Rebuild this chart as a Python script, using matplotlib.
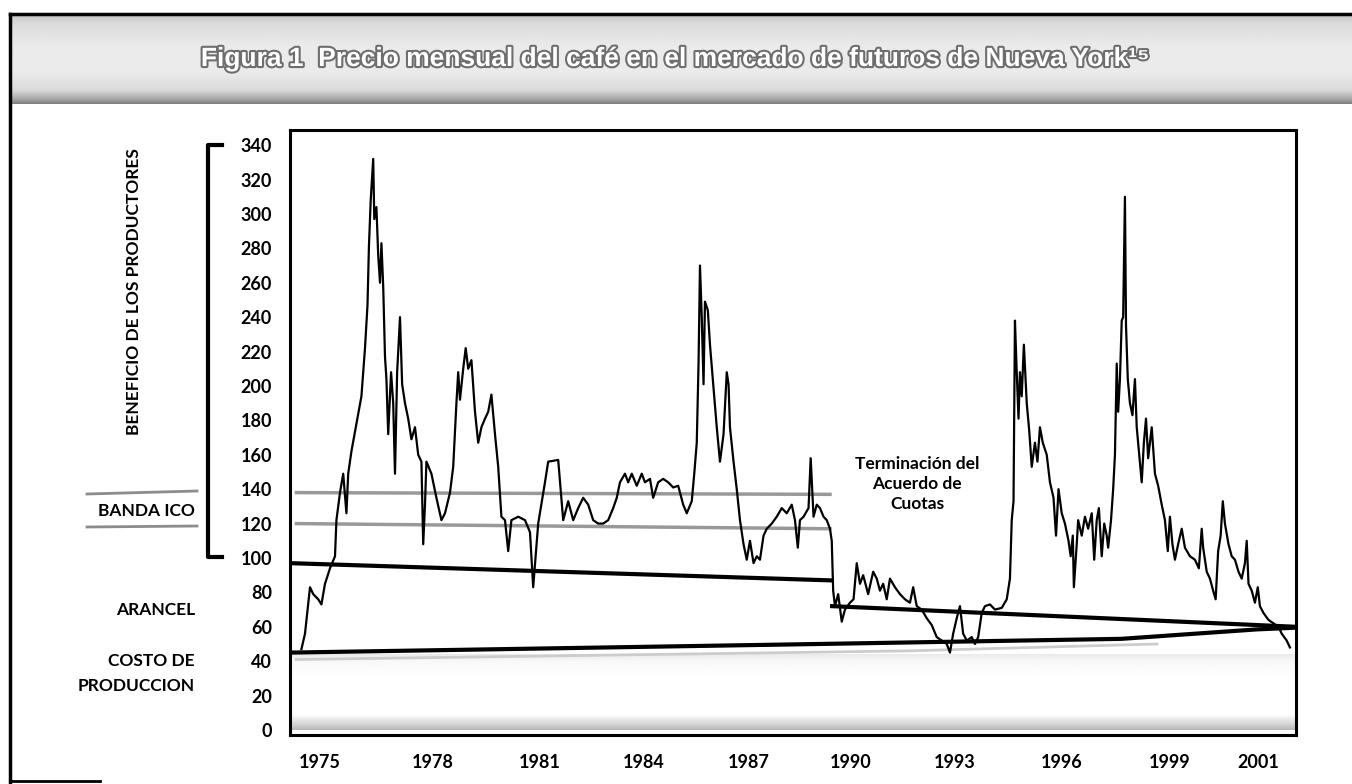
import matplotlib.pyplot as plt
import matplotlib.patheffects as pe
import numpy as np
from matplotlib.lines import Line2D

W, H = 1352, 784

# precio mensual aproximado (centavos US$/libra)
fechas = [1974.54, 1974.64, 1974.78, 1974.87, 1975.01, 1975.10, 1975.20, 1975.34, 1975.48, 1975.52,
          1975.62, 1975.71, 1975.80, 1975.85, 1975.94, 1976.08, 1976.22, 1976.32, 1976.39, 1976.43,
          1976.48, 1976.55, 1976.58, 1976.64, 1976.69, 1976.74, 1976.78, 1976.83, 1976.88, 1976.92,
          1976.97, 1977.05, 1977.11, 1977.16, 1977.22, 1977.30, 1977.36, 1977.44, 1977.53, 1977.62,
          1977.72, 1977.81, 1977.90, 1977.95, 1978.00, 1978.04, 1978.18, 1978.32, 1978.46, 1978.56,
          1978.70, 1978.79, 1978.88, 1978.93, 1978.98, 1979.07, 1979.14, 1979.21, 1979.30, 1979.40,
          1979.49, 1979.58, 1979.68, 1979.77, 1979.86, 1979.96, 1980.05, 1980.14, 1980.24, 1980.33,
          1980.42, 1980.61, 1980.80, 1980.94, 1981.03, 1981.17, 1981.36,
          1981.45, 1981.73, 1981.87, 1982.01, 1982.15, 1982.29, 1982.43, 1982.57, 1982.71, 1982.85,
          1982.99, 1983.13, 1983.27, 1983.37, 1983.46, 1983.60, 1983.69, 1983.79, 1983.93, 1984.07,
          1984.16, 1984.30, 1984.39, 1984.53, 1984.67, 1984.81, 1984.95, 1985.09, 1985.23, 1985.33,
          1985.47, 1985.54, 1985.61, 1985.66, 1985.70, 1985.75, 1985.80, 1985.84, 1985.92, 1985.98,
          1986.08, 1986.17, 1986.26, 1986.36, 1986.45, 1986.50, 1986.54, 1986.64, 1986.73, 1986.82,
          1986.92, 1987.01, 1987.10, 1987.20, 1987.29, 1987.38, 1987.48, 1987.57, 1987.71, 1987.85,
          1987.99, 1988.13, 1988.27, 1988.36, 1988.44, 1988.50, 1988.60, 1988.74, 1988.80, 1988.88,
          1988.97, 1989.06, 1989.16, 1989.25, 1989.34,
          1989.39, 1989.43, 1989.48, 1989.57, 1989.67, 1989.76, 1989.90, 1990.00, 1990.09, 1990.18,
          1990.27, 1990.41, 1990.55, 1990.65, 1990.74, 1990.83, 1990.93, 1991.02, 1991.16, 1991.30,
          1991.44, 1991.58, 1991.67, 1991.77, 1991.91, 1992.05, 1992.19, 1992.33, 1992.47, 1992.61,
          1992.70, 1992.79, 1992.89, 1992.98, 1993.07, 1993.17, 1993.31, 1993.40, 1993.49, 1993.59,
          1993.68, 1993.82, 1993.96, 1994.15, 1994.29, 1994.38, 1994.43, 1994.48, 1994.52, 1994.57,
          1994.62, 1994.66, 1994.71, 1994.77, 1994.85, 1994.92, 1994.99, 1995.08, 1995.15, 1995.22,
          1995.30, 1995.41, 1995.50, 1995.60, 1995.67, 1995.74, 1995.83, 1995.92, 1996.02, 1996.08,
          1996.14, 1996.17, 1996.25,
          1996.29, 1996.39, 1996.48, 1996.57, 1996.67, 1996.74, 1996.81, 1996.87, 1996.95, 1997.02,
          1997.09, 1997.13, 1997.21, 1997.27, 1997.32, 1997.37, 1997.41, 1997.46, 1997.51, 1997.55,
          1997.60, 1997.63, 1997.68, 1997.74, 1997.81, 1997.88, 1997.93, 1997.99, 1998.07, 1998.13,
          1998.19, 1998.25, 1998.35, 1998.44, 1998.53, 1998.63, 1998.72, 1998.80, 1998.86, 1998.93,
          1999.00, 1999.09, 1999.19, 1999.28, 1999.42, 1999.56, 1999.67, 1999.75, 1999.79, 1999.89,
          1999.98, 2000.07, 2000.14, 2000.21, 2000.28, 2000.34, 2000.40, 2000.50, 2000.59, 2000.68,
          2000.78, 2000.87, 2000.96, 2001.01, 2001.06, 2001.15, 2001.24, 2001.32, 2001.38, 2001.48,
          2001.62, 2001.76, 2001.90, 2001.99, 2002.13, 2002.22]
precio = [47, 56, 83, 79, 76, 73, 85, 94, 101, 122,
          138, 149, 126, 149, 162, 178, 194, 222, 247, 281,
          308, 332, 297, 304, 276, 260, 283, 258, 217, 204,
          172, 208, 190, 149, 208, 240, 201, 190, 181, 169,
          176, 160, 156, 108, 131, 156, 149, 135, 122, 126,
          138, 153, 190, 208, 192, 210, 222, 210, 215, 185,
          167, 176, 181, 185, 195, 172, 153, 124, 122, 104,
          122, 124, 122, 115, 83, 120, 144,
          156, 157, 122, 133, 122, 129, 135, 131, 122, 120,
          120, 122, 129, 135, 144, 149, 144, 149, 142, 149,
          144, 146, 135, 144, 146, 144, 141, 142, 131, 126,
          133, 149, 167, 213, 270, 240, 201, 249, 244, 224,
          199, 176, 156, 172, 208, 201, 176, 156, 140, 122,
          108, 99, 110, 97, 101, 99, 113, 117, 120, 124,
          129, 126, 131, 122, 106, 122, 124, 129, 158, 124,
          131, 129, 124, 122, 117,
          110, 81, 72, 79, 63, 70, 74, 76, 97, 85,
          90, 79, 92, 88, 81, 85, 76, 88, 83, 79,
          76, 74, 83, 72, 70, 65, 61, 54, 52, 50,
          45, 56, 65, 72, 56, 52, 54, 50, 54, 68,
          72, 73, 70, 71, 76, 88, 122, 133, 238, 208,
          181, 208, 194, 224, 190, 174, 153, 167, 156, 176,
          167, 160, 144, 135, 113, 140, 126, 120, 110, 101,
          113, 83, 108,
          122, 113, 124, 117, 126, 99, 122, 129, 101, 120,
          113, 106, 122, 140, 160, 213, 185, 204, 238, 240,
          310, 235, 204, 190, 183, 204, 176, 162, 144, 167,
          181, 158, 176, 149, 142, 131, 122, 104, 124, 108,
          99, 108, 117, 106, 101, 99, 94, 117, 106, 92,
          88, 81, 76, 104, 113, 133, 120, 108, 101, 99,
          92, 88, 97, 110, 85, 81, 74, 83, 72, 68,
          64, 62, 60, 56, 52, 48]

# banda ICO, arancel y costo de produccion
ico_x = [1974.40, 1989.34]
ico_sup = [138, 137]
ico_inf = [120, 117]
arancel1_x = [1974.22, 1989.34]
arancel1_y = [97, 87]
arancel2_x = [1989.40, 2002.39]
arancel2_y = [72, 60]
costo_x = [1974.22, 1989.0, 1997.5, 2001.3, 2002.39]
costo_y = [45, 50, 53, 58.5, 59.5]
sombra_x = [1974.40, 1991.5, 1998.5]
sombra_y = [41, 46, 50]

anios_pos = [1975.06, 1978.22, 1981.22, 1984.13, 1987.07, 1989.92, 1992.83, 1995.83, 1998.84, 2001.33]
anios_lbl = ['1975', '1978', '1981', '1984', '1987', '1990', '1993', '1996', '1999', '2001']
y_ticks = list(range(0, 341, 20))

plt.rcParams['font.family'] = ['Lato', 'DejaVu Sans']


def fx(px):
    return px / W


def fy(py):
    return 1 - py / H


fig = plt.figure(figsize=(W / 100, H / 100), dpi=100)

# franja del titulo
band = fig.add_axes([fx(10), fy(104), fx(1352) - fx(10), fy(15) - fy(104)])
filas = np.interp(np.linspace(0, 1, 100), [0, 0.1, 0.35, 0.65, 0.85, 0.95, 1.0],
                  [0.78, 0.86, 0.92, 0.92, 0.85, 0.65, 0.5]).reshape(-1, 1)
band.imshow(filas, aspect='auto', cmap='gray', vmin=0, vmax=1, extent=[0, 1, 0, 1])
band.axis('off')
fig.text(fx(675), fy(59),
         'Figura 1  Precio mensual del café en el mercado de futuros de Nueva York¹⁵',
         ha='center', va='center', fontsize=19, fontweight='bold', color='white',
         family=['Liberation Sans', 'DejaVu Sans'],
         path_effects=[pe.withStroke(linewidth=3, foreground='#6e6e6e')])

fig.add_artist(Line2D([fx(10), fx(1352)], [fy(14), fy(14)], color='black', lw=2.5))
fig.add_artist(Line2D([fx(10), fx(10)], [fy(14), fy(782)], color='black', lw=2.5))
fig.add_artist(Line2D([fx(10), fx(100)], [fy(781), fy(781)], color='black', lw=2))

# grafico principal
ax = fig.add_axes([fx(290), fy(735), fx(1296) - fx(290), fy(130) - fy(735)])
fondo = np.interp(np.linspace(0, 1, 100), [0, 0.08, 0.3, 0.8, 0.95, 1.0],
                  [0.92, 0.97, 1.0, 1.0, 0.8, 0.72]).reshape(-1, 1)
ax.imshow(fondo, aspect='auto', cmap='gray', vmin=0, vmax=1,
          extent=[1974.22, 2002.39, 0, 44], zorder=0)

ax.plot(sombra_x, sombra_y, color='#cccccc', lw=2, zorder=1)
ax.plot(ico_x, ico_sup, color='#999999', lw=2.5, zorder=1)
ax.plot(ico_x, ico_inf, color='#999999', lw=2.5, zorder=1)
ax.plot(fechas, precio, color='black', lw=1.6, zorder=3)
ax.plot(arancel1_x, arancel1_y, color='black', lw=3, zorder=4)
ax.plot(arancel2_x, arancel2_y, color='black', lw=3, zorder=4)
ax.plot(costo_x, costo_y, color='black', lw=3, zorder=4)

ax.set_xlim(1974.22, 2002.39)
ax.set_ylim(-2.9, 348.8)
ax.set_yticks(y_ticks)
ax.set_yticklabels([str(v) for v in y_ticks], fontsize=13, fontweight='bold')
ax.set_xticks(anios_pos)
ax.set_xticklabels(anios_lbl, fontsize=13, fontweight='bold')
ax.tick_params(axis='y', length=0, pad=13)
ax.tick_params(axis='x', length=0, pad=14)
for s in ax.spines.values():
    s.set_linewidth(2.2)
    s.set_color('black')

ax.text(1991.78, 143, 'Terminación del\nAcuerdo de\nCuotas', ha='center', va='center',
        fontsize=12.5, fontweight='bold', linespacing=1.3)

# rotulos de la izquierda
fig.text(fx(134), fy(292), 'BENEFICIO DE LOS PRODUCTORES', rotation=90,
         ha='center', va='center', fontsize=12.5, fontweight='bold')
fig.add_artist(Line2D([fx(222), fx(208), fx(208), fx(222)], [fy(145), fy(145), fy(557), fy(557)],
                      color='black', lw=3))
fig.text(fx(195), fy(511), 'BANDA ICO', ha='right', va='center', fontsize=12.5, fontweight='bold')
fig.add_artist(Line2D([fx(87), fx(197)], [fy(494), fy(491)], color='#8c8c8c', lw=2))
fig.add_artist(Line2D([fx(87), fx(197)], [fy(527), fy(526)], color='#8c8c8c', lw=2))
fig.text(fx(195), fy(610), 'ARANCEL', ha='right', va='center', fontsize=12.5, fontweight='bold')
fig.text(fx(195), fy(661), 'COSTO DE', ha='right', va='center', fontsize=12.5, fontweight='bold')
fig.text(fx(195), fy(686), 'PRODUCCION', ha='right', va='center', fontsize=12.5, fontweight='bold')

fig.savefig('out.png', dpi=100)
